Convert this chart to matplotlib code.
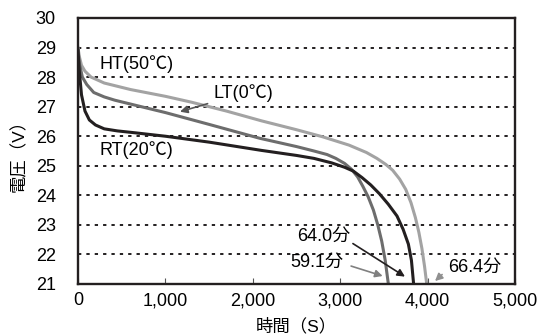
import matplotlib
matplotlib.use("Agg")
import matplotlib.pyplot as plt

plt.rcParams['font.family'] = ['Liberation Sans', 'Noto Sans CJK JP', 'DejaVu Sans']

# ---- data (time in seconds, voltage in V) ----
ht_t = [0, 15, 40, 80, 150, 300, 600, 1000, 1300, 1700, 2100, 2500, 2800, 3100,
        3300, 3420, 3520, 3600, 3680, 3750, 3810, 3860, 3900, 3935, 3965, 3990]
ht_v = [29.0, 28.7, 28.4, 28.2, 28.0, 27.8, 27.58, 27.35, 27.15, 26.85, 26.52, 26.22,
        25.98, 25.7, 25.45, 25.25, 25.05, 24.85, 24.55, 24.2, 23.75, 23.25, 22.75,
        22.2, 21.6, 21.0]

lt_t = [0, 20, 50, 100, 180, 300, 420, 640, 1000, 1500, 2080, 2500, 2700, 2850,
        2950, 3050, 3130, 3200, 3260, 3320, 3380, 3430, 3475, 3515, 3551]
lt_v = [28.9, 28.4, 28.0, 27.75, 27.48, 27.33, 27.22, 27.06, 26.8, 26.4, 25.93,
        25.65, 25.5, 25.38, 25.25, 25.08, 24.88, 24.62, 24.3, 23.95, 23.5, 23.0,
        22.45, 21.8, 21.0]

rt_t = [0, 15, 40, 80, 130, 200, 300, 450, 640, 1000, 1500, 2100, 2500, 2700,
        2900, 3050, 3150, 3250, 3350, 3450, 3550, 3650, 3720, 3780, 3815, 3840]
rt_v = [28.9, 28.2, 27.4, 26.85, 26.55, 26.38, 26.25, 26.18, 26.12, 26.0, 25.8,
        25.52, 25.35, 25.25, 25.1, 24.95, 24.82, 24.6, 24.35, 24.05, 23.7, 23.3,
        22.85, 22.35, 21.8, 21.0]

x_ticks = [0, 1000, 2000, 3000, 4000, 5000]
x_ticklabels = ['0', '1,000', '2,000', '3,000', '4,000', '5,000']
y_ticks = [21, 22, 23, 24, 25, 26, 27, 28, 29, 30]

fig = plt.figure(figsize=(5.38, 3.34), dpi=100)
ax = fig.add_axes([78/538, 1 - 284/334, (515 - 78)/538, (284 - 18)/334])

ax.plot(ht_t, ht_v, color='#a3a3a3', lw=2.2, solid_joinstyle='round', zorder=3)
ax.plot(lt_t, lt_v, color='#6d6d6d', lw=2.2, solid_joinstyle='round', zorder=3)
ax.plot(rt_t, rt_v, color='#231f20', lw=2.2, solid_joinstyle='round', zorder=4)

ax.set_xlim(0, 5000)
ax.set_ylim(21, 30)
ax.set_xticks(x_ticks)
ax.set_xticklabels(x_ticklabels)
ax.set_yticks(y_ticks)
ax.tick_params(axis='x', direction='in', length=4, width=0.8, color='#555555',
               labelsize=13, pad=6)
ax.tick_params(axis='y', length=0, labelsize=13, pad=16)

ax.yaxis.grid(True, color='#231f20', lw=1.4, linestyle=(0, (1.7, 2.6)))
for s in ax.spines.values():
    s.set_linewidth(1.7)
    s.set_color('#231f20')
    s.set_zorder(5)

ax.set_xlabel('時間（S）', fontsize=12.5, labelpad=6)
ax.set_ylabel('電圧（V）', fontsize=12.5, labelpad=6)

# labels
ax.text(250, 28.43, 'HT(50℃)', fontsize=13, ha='left', va='center')
ax.text(250, 25.53, 'RT(20℃)', fontsize=13, ha='left', va='center')
ax.annotate('LT(0℃)', xy=(1167, 26.83), xytext=(1545, 27.45), fontsize=13,
            ha='left', va='center',
            arrowprops=dict(arrowstyle='-|>', color='#555555', lw=1.2,
                            mutation_scale=11, shrinkA=2, shrinkB=0))
ax.annotate('64.0分', xy=(3741, 21.25), xytext=(2506, 22.6), fontsize=13,
            ha='left', va='center',
            arrowprops=dict(arrowstyle='-|>', color='#231f20', lw=1.2,
                            mutation_scale=11, shrinkA=0, shrinkB=0,
                            relpos=(1.0, 0.2)))
ax.annotate('59.1分', xy=(3486, 21.27), xytext=(2426, 21.75), fontsize=13,
            ha='left', va='center',
            arrowprops=dict(arrowstyle='-|>', color='#808080', lw=1.2,
                            mutation_scale=11, shrinkA=4, shrinkB=0,
                            relpos=(1.0, 0.4)))
ax.annotate('66.4分', xy=(4085, 21.1), xytext=(4233, 21.56), fontsize=13,
            ha='left', va='center',
            arrowprops=dict(arrowstyle='-|>', color='#909090', lw=1.2,
                            mutation_scale=11, shrinkA=3, shrinkB=0,
                            relpos=(0.0, 0.4)))

fig.savefig('out.png', dpi=100)
